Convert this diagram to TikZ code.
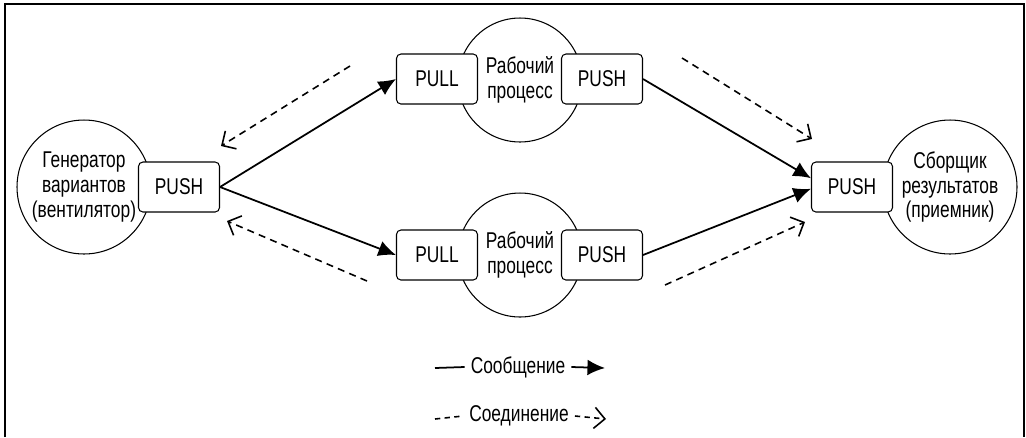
\documentclass[tikz,border=0pt]{standalone}
\usepackage{fontspec}
\setmainfont[FakeStretch=0.76]{Liberation Sans}
\usetikzlibrary{arrows.meta}

\tikzset{
  role/.style={shape=circle, draw, line width=0.6pt, inner sep=0pt, align=center},
  sock/.style={shape=rectangle, draw, fill=white, rounded corners=2.5pt, line width=0.6pt,
    minimum width=1.62cm, minimum height=1cm},
  msg/.style={line width=1pt, -{Latex[length=10pt, width=9pt]}},
  conn/.style={line width=0.9pt, dash pattern=on 4pt off 3pt, -{Straight Barb[length=6pt, width=12pt]}},
}

\begin{document}
\begin{tikzpicture}[x=0.02cm, y=-0.02cm, font=\fontsize{13}{14}\selectfont]
        % Frame:
        \useasboundingbox (0, 0) rectangle (1026, 437);
        \draw[line width=0.8pt] (5, 437) -- (5, 4) -- (1024, 4) -- (1024, 437);
        % Circles:
        \node[role, minimum size=2.68cm] (gen) at (84, 187){Генератор\\вариантов\\(вентилятор)};
        \node[role, minimum size=2.48cm] (w1) at (520, 80){Рабочий\\процесс};
        \node[role, minimum size=2.48cm] (w2) at (520, 255){Рабочий\\процесс};
        \node[role, minimum size=2.68cm] (sink) at (950, 187){Сборщик\\результатов\\(приемник)};
        % Sockets:
        \node[sock] (genpush) at (179, 187){PUSH};
        \node[sock] (w1pull) at (437, 79){PULL};
        \node[sock] (w1push) at (602, 79){PUSH};
        \node[sock] (w2pull) at (437, 255){PULL};
        \node[sock] (w2push) at (602, 255){PUSH};
        \node[sock] (sinkpush) at (852, 187){PUSH};
        % Messages:
        \draw[msg] (genpush.east) -- (w1pull.west);
        \draw[msg] (genpush.east) -- (w2pull.west);
        \draw[msg] (w1push.east) -- ([yshift=5pt]sinkpush.west);
        \draw[msg] (w2push.east) -- ([yshift=-1pt]sinkpush.west);
        % Connections:
        \coordinate (c1a) at (350, 66);
        \coordinate (c1b) at (221, 146);
        \coordinate (c2a) at (367, 281);
        \coordinate (c2b) at (227, 221);
        \coordinate (c3a) at (682, 58);
        \coordinate (c3b) at (812, 139);
        \coordinate (c4a) at (665, 285);
        \coordinate (c4b) at (805, 222);
        \draw[conn] (c1a) -- (c1b);
        \draw[conn] (c2a) -- (c2b);
        \draw[conn] (c3a) -- (c3b);
        \draw[conn] (c4a) -- (c4b);
        % Legend:
        \node (lmsg) at (518, 367){Сообщение};
        \node (lconn) at (519, 416){Соединение};
        \coordinate (lm0) at (435, 368);
        \coordinate (lm1) at (605, 368);
        \coordinate (lc0) at (435, 419);
        \coordinate (lc1) at (606, 419);
        \draw[line width=1pt] (lm0) -- (lmsg.west);
        \draw[msg] (lmsg.east) -- (lm1);
        \draw[line width=0.9pt, dash pattern=on 3pt off 2.5pt] (lc0) -- (lconn.west);
        \draw[conn, dash pattern=on 3pt off 2.5pt] (lconn.east) -- (lc1);
\end{tikzpicture}
\end{document}
